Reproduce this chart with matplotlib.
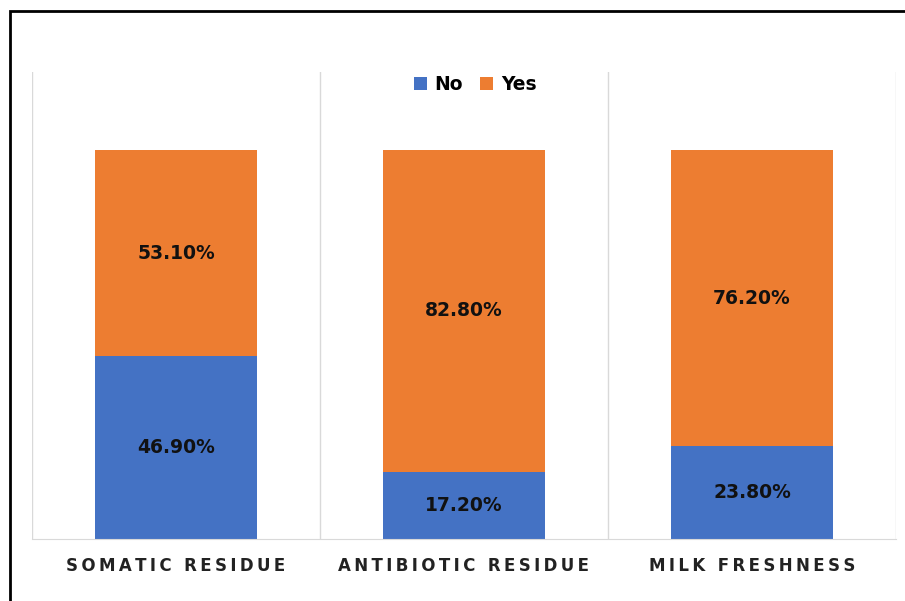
import matplotlib.pyplot as plt
from matplotlib.patches import Rectangle

categories = ["SOMATIC RESIDUE", "ANTIBIOTIC RESIDUE", "MILK FRESHNESS"]
no_values = [46.9, 17.2, 23.8]
yes_values = [53.1, 82.8, 76.2]

blue = "#4472C4"
orange = "#ED7D31"


def spaced(text):
    # imitate the wide letter spacing of the original axis labels
    return "\u2009".join(text)


fig = plt.figure(figsize=(9.05, 6.01), dpi=100)
ax = fig.add_axes([32 / 905, 62 / 601, 864 / 905, 467 / 601])

x = list(range(len(categories)))
width = 0.5625
bars_no = ax.bar(x, no_values, width, color=blue, label="No", zorder=2)
bars_yes = ax.bar(x, yes_values, width, bottom=no_values, color=orange,
                  label="Yes", zorder=2)

for bar, v in zip(bars_no, no_values):
    ax.text(bar.get_x() + bar.get_width() / 2, v / 2, f"{v:.2f}%",
            ha="center", va="center", fontsize=13.5, fontweight="bold",
            color="#111111", zorder=3)
for bar, b, v in zip(bars_yes, no_values, yes_values):
    ax.text(bar.get_x() + bar.get_width() / 2, b + v / 2, f"{v:.2f}%",
            ha="center", va="center", fontsize=13.5, fontweight="bold",
            color="#111111", zorder=3)

ax.set_xlim(-0.5, len(categories) - 0.5)
ax.set_ylim(0, 120)
ax.set_yticks([])
ax.set_xticks(x)
ax.set_xticklabels([spaced(c) for c in categories], fontsize=12,
                   fontweight="bold", color="#222222")
ax.tick_params(axis="x", length=0, pad=13)
ax.set_xticks([i - 0.5 for i in range(len(categories) + 1)], minor=True)
ax.tick_params(axis="x", which="minor", length=0)
ax.grid(True, axis="x", which="minor", color="#d9d9d9", linewidth=1, zorder=0)
for side in ["top", "left", "right"]:
    ax.spines[side].set_visible(False)
ax.spines["bottom"].set_color("#d9d9d9")

ax.legend(loc="upper center", bbox_to_anchor=(0.513, 1.03), ncol=2,
          frameon=False, prop={"size": 13.5, "weight": "bold"},
          handlelength=0.7, handleheight=0.7,
          handletextpad=0.4, columnspacing=0.9)

fig.patches.append(Rectangle((10 / 905, -0.1), 1.2, 1 - 11 / 601 + 0.1,
                             transform=fig.transFigure, fill=False,
                             edgecolor="black", linewidth=2))

plt.savefig("out.png", dpi=100)
